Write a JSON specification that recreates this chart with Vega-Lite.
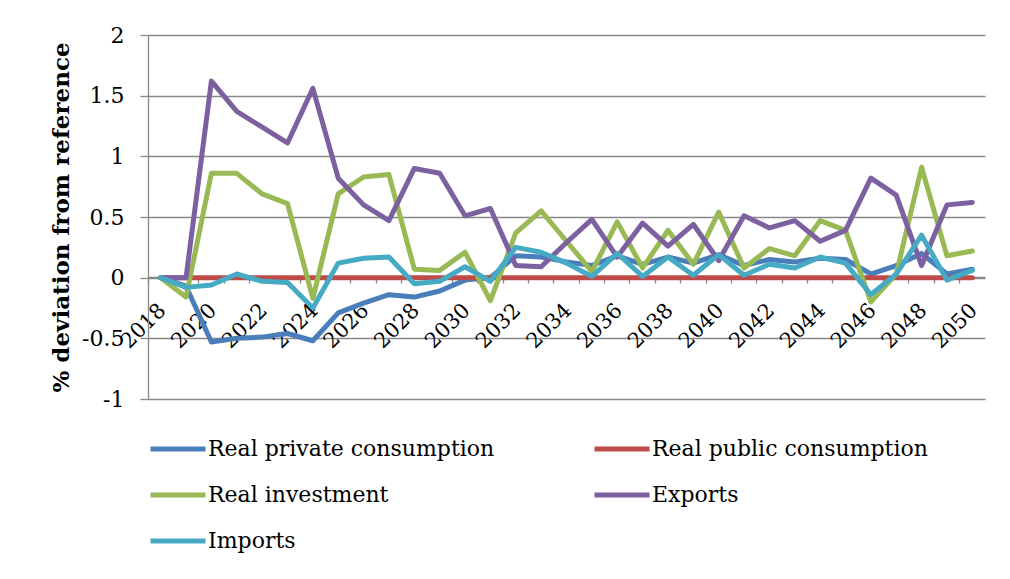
{
  "$schema": "https://vega.github.io/schema/vega-lite/v6.json",
  "width": 837,
  "height": 364,
  "autosize": "none",
  "padding": {"left": 148, "top": 35, "right": 25, "bottom": 180},
  "background": "white",
  "view": {"stroke": null},
  "data": {"values": [
    {"year": 2018, "series": "Real private consumption", "value": 0},
    {"year": 2019, "series": "Real private consumption", "value": -0.07},
    {"year": 2020, "series": "Real private consumption", "value": -0.53},
    {"year": 2021, "series": "Real private consumption", "value": -0.5},
    {"year": 2022, "series": "Real private consumption", "value": -0.49},
    {"year": 2023, "series": "Real private consumption", "value": -0.46},
    {"year": 2024, "series": "Real private consumption", "value": -0.52},
    {"year": 2025, "series": "Real private consumption", "value": -0.29},
    {"year": 2026, "series": "Real private consumption", "value": -0.21},
    {"year": 2027, "series": "Real private consumption", "value": -0.14},
    {"year": 2028, "series": "Real private consumption", "value": -0.16},
    {"year": 2029, "series": "Real private consumption", "value": -0.11},
    {"year": 2030, "series": "Real private consumption", "value": -0.02},
    {"year": 2031, "series": "Real private consumption", "value": 0.0},
    {"year": 2032, "series": "Real private consumption", "value": 0.18},
    {"year": 2033, "series": "Real private consumption", "value": 0.17},
    {"year": 2034, "series": "Real private consumption", "value": 0.13},
    {"year": 2035, "series": "Real private consumption", "value": 0.1},
    {"year": 2036, "series": "Real private consumption", "value": 0.18},
    {"year": 2037, "series": "Real private consumption", "value": 0.11},
    {"year": 2038, "series": "Real private consumption", "value": 0.17},
    {"year": 2039, "series": "Real private consumption", "value": 0.12},
    {"year": 2040, "series": "Real private consumption", "value": 0.19},
    {"year": 2041, "series": "Real private consumption", "value": 0.1},
    {"year": 2042, "series": "Real private consumption", "value": 0.15},
    {"year": 2043, "series": "Real private consumption", "value": 0.13},
    {"year": 2044, "series": "Real private consumption", "value": 0.16},
    {"year": 2045, "series": "Real private consumption", "value": 0.15},
    {"year": 2046, "series": "Real private consumption", "value": 0.03},
    {"year": 2047, "series": "Real private consumption", "value": 0.1},
    {"year": 2048, "series": "Real private consumption", "value": 0.2},
    {"year": 2049, "series": "Real private consumption", "value": 0.03},
    {"year": 2050, "series": "Real private consumption", "value": 0.07},
    {"year": 2018, "series": "Real public consumption", "value": 0},
    {"year": 2019, "series": "Real public consumption", "value": 0},
    {"year": 2020, "series": "Real public consumption", "value": 0},
    {"year": 2021, "series": "Real public consumption", "value": 0},
    {"year": 2022, "series": "Real public consumption", "value": 0},
    {"year": 2023, "series": "Real public consumption", "value": 0},
    {"year": 2024, "series": "Real public consumption", "value": 0},
    {"year": 2025, "series": "Real public consumption", "value": 0},
    {"year": 2026, "series": "Real public consumption", "value": 0},
    {"year": 2027, "series": "Real public consumption", "value": 0},
    {"year": 2028, "series": "Real public consumption", "value": 0},
    {"year": 2029, "series": "Real public consumption", "value": 0},
    {"year": 2030, "series": "Real public consumption", "value": 0},
    {"year": 2031, "series": "Real public consumption", "value": 0},
    {"year": 2032, "series": "Real public consumption", "value": 0},
    {"year": 2033, "series": "Real public consumption", "value": 0},
    {"year": 2034, "series": "Real public consumption", "value": 0},
    {"year": 2035, "series": "Real public consumption", "value": 0},
    {"year": 2036, "series": "Real public consumption", "value": 0},
    {"year": 2037, "series": "Real public consumption", "value": 0},
    {"year": 2038, "series": "Real public consumption", "value": 0},
    {"year": 2039, "series": "Real public consumption", "value": 0},
    {"year": 2040, "series": "Real public consumption", "value": 0},
    {"year": 2041, "series": "Real public consumption", "value": 0},
    {"year": 2042, "series": "Real public consumption", "value": 0},
    {"year": 2043, "series": "Real public consumption", "value": 0},
    {"year": 2044, "series": "Real public consumption", "value": 0},
    {"year": 2045, "series": "Real public consumption", "value": 0},
    {"year": 2046, "series": "Real public consumption", "value": 0},
    {"year": 2047, "series": "Real public consumption", "value": 0},
    {"year": 2048, "series": "Real public consumption", "value": 0},
    {"year": 2049, "series": "Real public consumption", "value": 0},
    {"year": 2050, "series": "Real public consumption", "value": 0},
    {"year": 2018, "series": "Real investment", "value": 0},
    {"year": 2019, "series": "Real investment", "value": -0.16},
    {"year": 2020, "series": "Real investment", "value": 0.86},
    {"year": 2021, "series": "Real investment", "value": 0.86},
    {"year": 2022, "series": "Real investment", "value": 0.69},
    {"year": 2023, "series": "Real investment", "value": 0.61},
    {"year": 2024, "series": "Real investment", "value": -0.17},
    {"year": 2025, "series": "Real investment", "value": 0.69},
    {"year": 2026, "series": "Real investment", "value": 0.83},
    {"year": 2027, "series": "Real investment", "value": 0.85},
    {"year": 2028, "series": "Real investment", "value": 0.07},
    {"year": 2029, "series": "Real investment", "value": 0.06},
    {"year": 2030, "series": "Real investment", "value": 0.21},
    {"year": 2031, "series": "Real investment", "value": -0.19},
    {"year": 2032, "series": "Real investment", "value": 0.37},
    {"year": 2033, "series": "Real investment", "value": 0.55},
    {"year": 2034, "series": "Real investment", "value": 0.3},
    {"year": 2035, "series": "Real investment", "value": 0.05},
    {"year": 2036, "series": "Real investment", "value": 0.46},
    {"year": 2037, "series": "Real investment", "value": 0.08},
    {"year": 2038, "series": "Real investment", "value": 0.39},
    {"year": 2039, "series": "Real investment", "value": 0.11},
    {"year": 2040, "series": "Real investment", "value": 0.54},
    {"year": 2041, "series": "Real investment", "value": 0.08},
    {"year": 2042, "series": "Real investment", "value": 0.24},
    {"year": 2043, "series": "Real investment", "value": 0.18},
    {"year": 2044, "series": "Real investment", "value": 0.47},
    {"year": 2045, "series": "Real investment", "value": 0.39},
    {"year": 2046, "series": "Real investment", "value": -0.2},
    {"year": 2047, "series": "Real investment", "value": 0.03},
    {"year": 2048, "series": "Real investment", "value": 0.91},
    {"year": 2049, "series": "Real investment", "value": 0.18},
    {"year": 2050, "series": "Real investment", "value": 0.22},
    {"year": 2018, "series": "Exports", "value": 0},
    {"year": 2019, "series": "Exports", "value": 0},
    {"year": 2020, "series": "Exports", "value": 1.62},
    {"year": 2021, "series": "Exports", "value": 1.37},
    {"year": 2022, "series": "Exports", "value": 1.24},
    {"year": 2023, "series": "Exports", "value": 1.11},
    {"year": 2024, "series": "Exports", "value": 1.56},
    {"year": 2025, "series": "Exports", "value": 0.82},
    {"year": 2026, "series": "Exports", "value": 0.6},
    {"year": 2027, "series": "Exports", "value": 0.47},
    {"year": 2028, "series": "Exports", "value": 0.9},
    {"year": 2029, "series": "Exports", "value": 0.86},
    {"year": 2030, "series": "Exports", "value": 0.51},
    {"year": 2031, "series": "Exports", "value": 0.57},
    {"year": 2032, "series": "Exports", "value": 0.1},
    {"year": 2033, "series": "Exports", "value": 0.09},
    {"year": 2034, "series": "Exports", "value": 0.29},
    {"year": 2035, "series": "Exports", "value": 0.48},
    {"year": 2036, "series": "Exports", "value": 0.17},
    {"year": 2037, "series": "Exports", "value": 0.45},
    {"year": 2038, "series": "Exports", "value": 0.26},
    {"year": 2039, "series": "Exports", "value": 0.44},
    {"year": 2040, "series": "Exports", "value": 0.14},
    {"year": 2041, "series": "Exports", "value": 0.51},
    {"year": 2042, "series": "Exports", "value": 0.41},
    {"year": 2043, "series": "Exports", "value": 0.47},
    {"year": 2044, "series": "Exports", "value": 0.3},
    {"year": 2045, "series": "Exports", "value": 0.39},
    {"year": 2046, "series": "Exports", "value": 0.82},
    {"year": 2047, "series": "Exports", "value": 0.68},
    {"year": 2048, "series": "Exports", "value": 0.1},
    {"year": 2049, "series": "Exports", "value": 0.6},
    {"year": 2050, "series": "Exports", "value": 0.62},
    {"year": 2018, "series": "Imports", "value": 0},
    {"year": 2019, "series": "Imports", "value": -0.08},
    {"year": 2020, "series": "Imports", "value": -0.06},
    {"year": 2021, "series": "Imports", "value": 0.03},
    {"year": 2022, "series": "Imports", "value": -0.03},
    {"year": 2023, "series": "Imports", "value": -0.04},
    {"year": 2024, "series": "Imports", "value": -0.25},
    {"year": 2025, "series": "Imports", "value": 0.12},
    {"year": 2026, "series": "Imports", "value": 0.16},
    {"year": 2027, "series": "Imports", "value": 0.17},
    {"year": 2028, "series": "Imports", "value": -0.05},
    {"year": 2029, "series": "Imports", "value": -0.03},
    {"year": 2030, "series": "Imports", "value": 0.09},
    {"year": 2031, "series": "Imports", "value": -0.03},
    {"year": 2032, "series": "Imports", "value": 0.25},
    {"year": 2033, "series": "Imports", "value": 0.21},
    {"year": 2034, "series": "Imports", "value": 0.12},
    {"year": 2035, "series": "Imports", "value": 0.01},
    {"year": 2036, "series": "Imports", "value": 0.2},
    {"year": 2037, "series": "Imports", "value": 0.01},
    {"year": 2038, "series": "Imports", "value": 0.17},
    {"year": 2039, "series": "Imports", "value": 0.02},
    {"year": 2040, "series": "Imports", "value": 0.19},
    {"year": 2041, "series": "Imports", "value": 0.02},
    {"year": 2042, "series": "Imports", "value": 0.11},
    {"year": 2043, "series": "Imports", "value": 0.08},
    {"year": 2044, "series": "Imports", "value": 0.17},
    {"year": 2045, "series": "Imports", "value": 0.12},
    {"year": 2046, "series": "Imports", "value": -0.14},
    {"year": 2047, "series": "Imports", "value": 0.03},
    {"year": 2048, "series": "Imports", "value": 0.35},
    {"year": 2049, "series": "Imports", "value": -0.02},
    {"year": 2050, "series": "Imports", "value": 0.06}
  ]},
  "mark": {"type": "line", "strokeWidth": 5, "strokeJoin": "round", "strokeCap": "round"},
  "encoding": {
    "x": {
      "field": "year",
      "type": "ordinal",
      "bandPosition": 0.5,
      "scale": {"type": "band", "paddingInner": 0, "paddingOuter": 0},
      "axis": {
        "title": null,
        "orient": "bottom",
        "offset": -122,
        "bandPosition": 0,
        "domainColor": "#898989",
        "domainWidth": 1.3,
        "tickColor": "#898989",
        "tickWidth": 1.3,
        "tickSize": 6,
        "labelAngle": -45,
        "labelAlign": "right",
        "labelBaseline": "middle",
        "labelPadding": 24,
        "labelOffset": 2,
        "labelFont": "DejaVu Serif",
        "labelFontSize": 21,
        "labelColor": "#000000",
        "labelOverlap": false,
        "labelExpr": "datum.value % 2 == 0 ? datum.label : ''"
      }
    },
    "y": {
      "field": "value",
      "type": "quantitative",
      "scale": {"domain": [-1, 2], "nice": false, "zero": false},
      "axis": {
        "title": "% deviation from reference",
        "titleFont": "DejaVu Serif",
        "titleFontWeight": "bold",
        "titleFontSize": 23,
        "titleColor": "#000000",
        "titlePadding": 8,
        "values": [-1, -0.5, 0, 0.5, 1, 1.5, 2],
        "labelExpr": "'' + datum.value",
        "labelFont": "DejaVu Serif",
        "labelFontSize": 22,
        "labelColor": "#000000",
        "labelPadding": 16,
        "tickSize": 8,
        "tickColor": "#898989",
        "tickWidth": 1.3,
        "domainColor": "#898989",
        "domainWidth": 1.3,
        "grid": true,
        "gridColor": "#898989",
        "gridWidth": 1.3
      }
    },
    "color": {
      "field": "series",
      "type": "nominal",
      "scale": {
        "domain": ["Real private consumption", "Real public consumption", "Real investment", "Exports", "Imports"],
        "range": ["#4A7EBB", "#BE4B48", "#98B954", "#7D60A0", "#46AAC5"]
      },
      "legend": {
        "title": null,
        "orient": "none",
        "direction": "horizontal",
        "legendX": 0,
        "legendY": 384,
        "columns": 2,
        "columnPadding": 89,
        "rowPadding": 5,
        "symbolType": "stroke",
        "symbolSize": 3025,
        "symbolStrokeWidth": 5,
        "labelFont": "DejaVu Serif",
        "labelFontSize": 22,
        "labelColor": "#000000",
        "labelOffset": 0,
        "labelLimit": 500
      }
    }
  }
}
